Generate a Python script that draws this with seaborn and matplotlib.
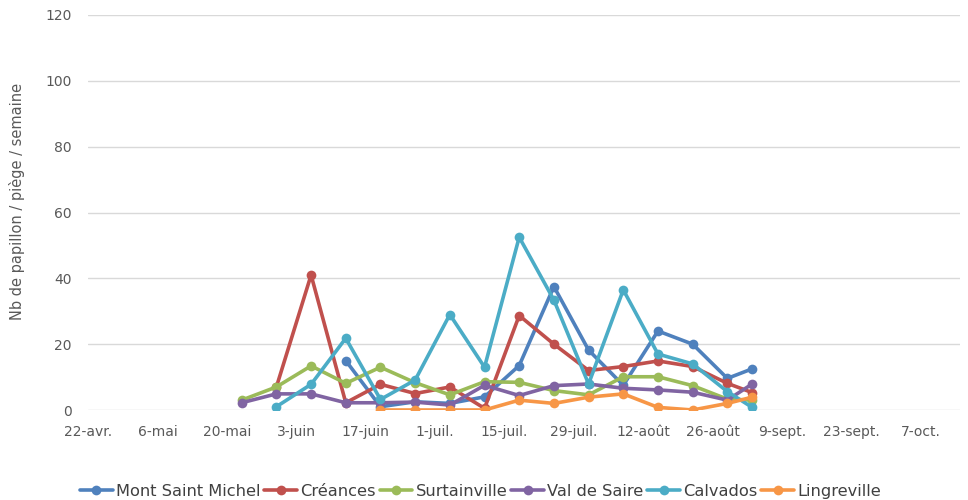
import numpy as np
import pandas as pd
import seaborn as sns
import matplotlib
matplotlib.use("Agg")
from matplotlib import pyplot as plt

# weekly trap counts
dates = pd.to_datetime(["2019-05-23", "2019-05-30", "2019-06-06", "2019-06-13",
                        "2019-06-20", "2019-06-27", "2019-07-04", "2019-07-11",
                        "2019-07-18", "2019-07-25", "2019-08-01", "2019-08-08",
                        "2019-08-15", "2019-08-22", "2019-08-29", "2019-09-03"])
nan = np.nan
mont_saint_michel = [nan, nan, nan, 15, 1, 2.5, 2, 4, 13.5, 37.5, 18.2, 7.5, 24, 20, 9.6, 12.5]
creances = [nan, 7, 41, 2.2, 7.8, 5, 7, 0.5, 28.7, 20, 12, 13.2, 14.9, 13.2, 8.1, 5.3]
surtainville = [3, 7, 13.4, 8.1, 13, 8.3, 4.6, 8.6, 8.4, 5.9, 4.6, 10.1, 10.1, 7.4, 3.3, 3]
val_de_saire = [2.2, 4.9, 4.9, 2.2, 2.2, 2.4, 1.5, 7.5, 4.4, 7.4, 7.9, 6.6, 6.1, 5.4, 3, 7.9]
calvados = [nan, 1, 7.8, 21.8, 3.2, 9.1, 29, 13, 52.5, 33.4, 7.9, 36.5, 17, 14, 5.6, 0.8]
lingreville = [nan, nan, nan, nan, 0, 0, 0, 0, 3, 2, 3.9, 4.9, 0.8, 0, 2, 3.9]

sites = ["Mont Saint Michel", "Créances", "Surtainville", "Val de Saire", "Calvados", "Lingreville"]
colors = ["#4F81BD", "#C0504D", "#9BBB59", "#8064A2", "#4BACC6", "#F79646"]

tick_dates = pd.date_range("2019-04-22", periods=13, freq="14D")
tick_labels = ["22-avr.", "6-mai", "20-mai", "3-juin", "17-juin", "1-juil.", "15-juil.",
               "29-juil.", "12-août", "26-août", "9-sept.", "23-sept.", "7-oct."]

frames = []
for name, vals in zip(sites, [mont_saint_michel, creances, surtainville,
                              val_de_saire, calvados, lingreville]):
    frames.append(pd.DataFrame({"date": dates, "val": vals, "site": name}))
df = pd.concat(frames).dropna()

sns.set_style("white")
plt.rcParams['font.family'] = ['DejaVu Sans']

fig, ax = plt.subplots(figsize=(9.68, 5), dpi=100)
fig.subplots_adjust(left=0.091, right=0.992, top=0.97, bottom=0.18)

sns.lineplot(data=df, x="date", y="val", hue="site", hue_order=sites,
             palette=colors, marker="o", markersize=7, markeredgewidth=0,
             linewidth=2.6, ax=ax)

ax.set_ylim(0, 120)
ax.set_yticks(range(0, 121, 20))
ax.set_xlim(tick_dates[0], pd.Timestamp("2019-10-15"))
ax.set_xticks(tick_dates)
ax.set_xticklabels(tick_labels)
ax.grid(axis="y", color="#d9d9d9", linewidth=1)
ax.set_axisbelow(True)
for s in ax.spines.values():
    s.set_visible(False)
ax.tick_params(axis="both", length=0, colors="#595959", labelsize=10)
ax.tick_params(axis="y", pad=12)
ax.tick_params(axis="x", pad=11)
ax.set_xlabel("")
ax.set_ylabel("Nb de papillon / piège / semaine", color="#595959", fontsize=10.5)
ax.yaxis.set_label_coords(-0.072, 0.527)

leg = ax.legend(loc="upper center", bbox_to_anchor=(0.45, -0.15), ncol=6, frameon=False,
                fontsize=11.7, handlelength=2.0, handletextpad=0.2, columnspacing=0.25)
for t in leg.get_texts():
    t.set_color("#404040")

fig.savefig("out.png", dpi=100)
